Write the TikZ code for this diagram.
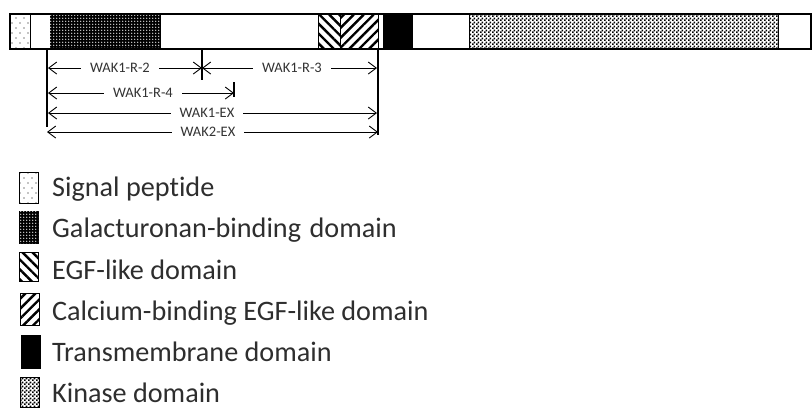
\documentclass[tikz,border=0pt]{standalone}
\usepackage{fontspec}
\setmainfont{Carlito}[Ligatures=CommonOff]
\usetikzlibrary{patterns,patterns.meta,arrows.meta}
\tikzdeclarepattern{name=sigdots,type=uncolored,bottom left={(-1pt,-1pt)},top right={(7pt,9pt)},tile size={(8pt,10pt)},code={\fill (0pt,0pt) circle (0.7pt); \fill (4pt,5pt) circle (0.7pt);}}
\tikzdeclarepattern{name=galdots,type=uncolored,bottom left={(-1pt,-1pt)},top right={(2pt,2pt)},tile size={(3pt,3pt)},code={\fill (0pt,0pt) circle (0.8pt);}}
\tikzdeclarepattern{name=kinchk,type=uncolored,bottom left={(0pt,0pt)},top right={(4pt,4pt)},tile size={(4pt,4pt)},code={\fill (0pt,0pt) rectangle (2pt,2pt); \fill (2pt,2pt) rectangle (4pt,4pt);}}
\tikzset{
  seg/.style={draw=black,line width=1pt},
  sigp/.style={seg,pattern=sigdots},
  galp/.style={seg,fill=black,postaction={pattern=galdots,pattern color=white}},
  egfp/.style={seg,pattern={Lines[angle=-45,distance=7pt,line width=2.4pt]}},
  caegfp/.style={seg,pattern={Lines[angle=45,distance=7pt,line width=2.4pt]}},
  tmp/.style={seg,fill=black},
  kinp/.style={seg,pattern=kinchk},
  vline/.style={line width=1.5pt},
  dim/.style={line width=0.9pt,{Straight Barb[length=8pt,width=12pt]}-{Straight Barb[length=8pt,width=12pt]}},
  dlab/.style={fill=white,inner xsep=9pt,inner ysep=1.5pt,font=\fontsize{14.5}{15}\selectfont,text=black!80},
  leg/.style={anchor=base west,font=\fontsize{28.2}{30}\selectfont,text=black!82,inner sep=0pt},
}
\begin{document}
\begin{tikzpicture}[x=1pt,y=-1pt]
\useasboundingbox (0,0) rectangle (812,408);
% protein bar
\draw[seg,fill=white] (10,14) rectangle (811,49);
\draw[sigp] (10,14) rectangle (30,49);
\draw[seg] (30,14) rectangle (50,49);
\draw[galp] (50,14) rectangle (160,49);
\draw[egfp] (318,14) rectangle (340,49);
\draw[caegfp] (340,14) rectangle (378,49);
\draw[seg] (378,14) rectangle (383,49);
\draw[tmp] (383,14) rectangle (412,49);
\draw[kinp] (469,14) rectangle (778,49);
\draw[seg,line width=1.3pt] (10,14) rectangle (811,49);
% dimension coordinates
\coordinate (v1t) at (47,49); \coordinate (v1b) at (47,127);
\coordinate (v2t) at (202,49); \coordinate (v2b) at (202,80);
\coordinate (v3t) at (378,49); \coordinate (v3b) at (378,135);
\coordinate (v4t) at (234,82); \coordinate (v4b) at (234,97);
\draw[vline] (v1t) -- (v1b);
\draw[vline] (v2t) -- (v2b);
\draw[vline] (v3t) -- (v3b);
\draw[vline] (v4t) -- (v4b);
\coordinate (a1) at (48,68); \coordinate (a2) at (202,68); \coordinate (a3) at (377,68);
\coordinate (b1) at (48,93); \coordinate (b2) at (234,93);
\coordinate (c1) at (48,113); \coordinate (c2) at (377,113);
\coordinate (d1) at (47,132); \coordinate (d2) at (378,132);
\draw[dim] (a1) -- (a2);
\draw[dim] (a2) -- (a3);
\draw[dim] (b1) -- (b2);
\draw[dim] (c1) -- (c2);
\draw[dim] (d1) -- (d2);
\node[dlab] (l1) at (120,68) {WAK1-R-2};
\node[dlab] (l2) at (292,68) {WAK1-R-3};
\node[dlab] (l3) at (143,93) {WAK1-R-4};
\node[dlab] (l4) at (207,113) {WAK1-EX};
\node[dlab] (l5) at (208,132) {WAK2-EX};
% legend
\draw[sigp] (19,172) rectangle (38,203);
\node[leg] (t1) at (52,196) {Signal peptide};
\draw[galp] (19,211) rectangle (38,243);
\node[leg] (t2) at (52,237) {Galacturonan-binding\hspace{0.08em} domain};
\draw[egfp] (19,252) rectangle (38,281);
\node[leg] (t3) at (52,279) {EGF-like domain};
\draw[caegfp] (20,293) rectangle (39,325);
\node[leg] (t4) at (52,320) {Calcium-binding EGF-like domain};
\draw[tmp] (21,335) rectangle (40,368);
\node[leg] (t5) at (52,361) {Transmembrane domain};
\draw[kinp] (20,377) rectangle (39,407);
\node[leg] (t6) at (52,402) {Kinase domain};
\end{tikzpicture}
\end{document}
